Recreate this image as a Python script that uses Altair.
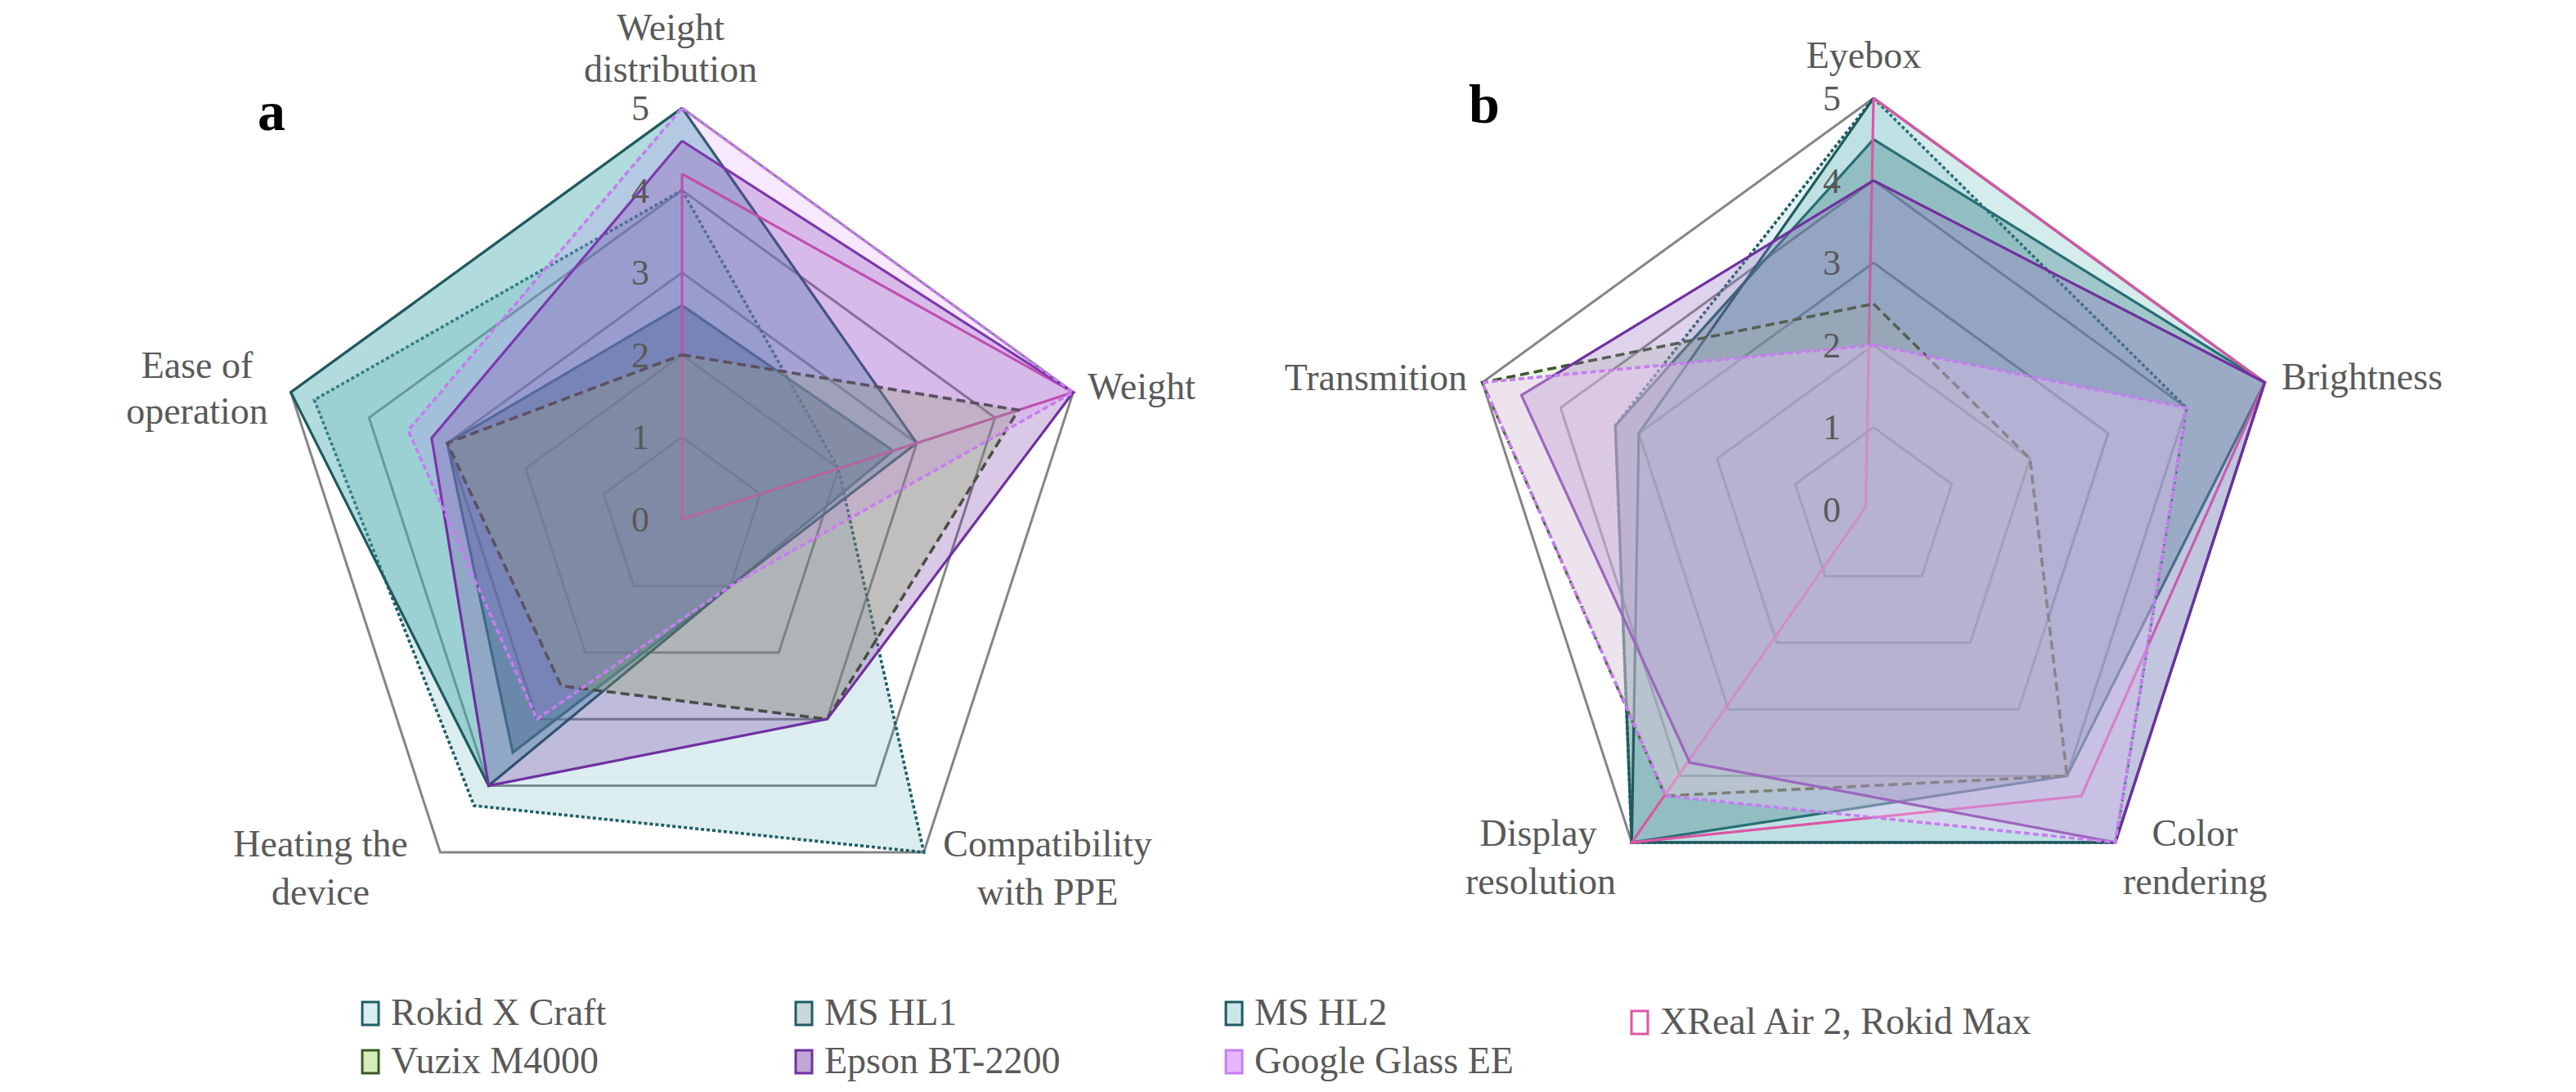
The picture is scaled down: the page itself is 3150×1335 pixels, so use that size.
import altair as alt
import pandas as pd

# ---------------- data ----------------
series = ["Rokid X Craft", "MS HL1", "MS HL2", "XReal Air 2, Rokid Max",
          "Vuzix M4000", "Epson BT-2200", "Google Glass EE"]

axes_a = ["Weight distribution", "Weight", "Compatibility with PPE",
          "Heating the device", "Ease of operation"]
axes_b = ["Eyebox", "Brightness", "Color rendering", "Display resolution", "Transmition"]

tick_values = [0, 1, 2, 3, 4, 5]

# panel a: Weight distribution, Weight, Compatibility with PPE, Heating the device, Ease of operation
rokid_a = [4.0, 2.0, 5.0, 4.3, 4.7]
hl1_a = [2.6, 2.7, 1.0, 3.5, 3.0]
hl2_a = [5.0, 3.0, 1.0, 4.0, 5.0]
xreal_a = [4.2, 5.0, 0.0, 0.0, 0.0]
vuzix_a = [2.0, 4.3, 3.0, 2.5, 3.0]
epson_a = [4.6, 5.0, 3.0, 4.0, 3.2]
google_a = [5.0, 5.0, 1.0, 3.0, 3.5]

# panel b: Eyebox, Brightness, Color rendering, Display resolution, Transmition
rokid_b = [5.0, 4.0, 5.0, 5.0, 3.3]
hl1_b = [4.5, 5.0, 4.0, 5.0, 3.3]
hl2_b = [5.0, 5.0, 5.0, 5.0, 3.0]
xreal_b = [5.0, 5.0, 4.3, 5.0, 0.1]
vuzix_b = [2.5, 2.0, 4.0, 4.3, 5.0]
epson_b = [4.0, 5.0, 5.0, 3.8, 4.5]
google_b = [2.0, 4.0, 5.0, 4.3, 5.0]

values = {
    "a": dict(zip(series, [rokid_a, hl1_a, hl2_a, xreal_a, vuzix_a, epson_a, google_a])),
    "b": dict(zip(series, [rokid_b, hl1_b, hl2_b, xreal_b, vuzix_b, epson_b, google_b])),
}

# ---------------- styles ----------------
line_color = {"Rokid X Craft": "#1f5f66", "MS HL1": "#1f5c63", "MS HL2": "#1e5a60",
              "XReal Air 2, Rokid Max": "#dc56a6", "Vuzix M4000": "#3a5a28",
              "Epson BT-2200": "#7030a0", "Google Glass EE": "#c77cf2"}
fill_style = {
    "a": {"Rokid X Craft": ("#4ba3b0", 0.2), "MS HL1": ("#1f5c63", 0.48),
          "MS HL2": ("#4aacb0", 0.43), "XReal Air 2, Rokid Max": ("#ffffff", 0.0),
          "Vuzix M4000": ("#92d050", 0.3), "Epson BT-2200": ("#7030a0", 0.26),
          "Google Glass EE": ("#cc66ff", 0.15)},
    "b": {"Rokid X Craft": ("#4ba3b0", 0.15), "MS HL1": ("#1f5c63", 0.30),
          "MS HL2": ("#4aacb0", 0.23), "XReal Air 2, Rokid Max": ("#ffffff", 0.0),
          "Vuzix M4000": ("#aac896", 0.25), "Epson BT-2200": ("#966ebe", 0.30),
          "Google Glass EE": ("#f0c8fa", 0.35)},
}
legend_fill = {"Rokid X Craft": ("#4ba3b0", 0.2), "MS HL1": ("#1f5c63", 0.48),
               "MS HL2": ("#4aacb0", 0.43), "XReal Air 2, Rokid Max": ("#ffffff", 1.0),
               "Vuzix M4000": ("#92d050", 0.3), "Epson BT-2200": ("#7030a0", 0.26),
               "Google Glass EE": ("#cc66ff", 0.15)}
dash = {"Rokid X Craft": [4, 3], "MS HL1": [1, 0], "MS HL2": [1, 0],
        "XReal Air 2, Rokid Max": [1, 0], "Vuzix M4000": [11, 6],
        "Epson BT-2200": [1, 0], "Google Glass EE": [7, 4]}

FONT = "Liberation Serif"
TXT = "#595959"
W, H = 3134, 1316
UNIT = 100.6
CX = {"a": 834, "b": 2291}
CY = {"a": 635, "b": 623}

xs = alt.Scale(domain=[8, 8 + W], range=[0, W], nice=False, zero=False)
ys = alt.Scale(domain=[8, 8 + H], range=[0, H], nice=False, zero=False)

# ---------------- tables ----------------
rows = []
for panel in ("a", "b"):
    for s in series:
        v = values[panel][s]
        for i in range(6):
            rows.append({"panel": panel, "series": s, "idx": i, "value": v[i % 5]})
poly = pd.DataFrame(rows)

grid_rows = []
for panel in ("a", "b"):
    for k in tick_values[1:]:
        for i in range(6):
            grid_rows.append({"panel": panel, "ring": k, "idx": i, "value": k})
grid = pd.DataFrame(grid_rows)

tick_df = pd.DataFrame([{"panel": p, "value": k, "label": str(k)}
                        for p in ("a", "b") for k in tick_values])

cx_expr = f"datum.panel == 'a' ? {CX['a']} : {CX['b']}"
cy_expr = f"datum.panel == 'a' ? {CY['a']} : {CY['b']}"


def polar(ch):
    return (ch.transform_calculate(ang="PI/2 - datum.idx*2*PI/5")
              .transform_calculate(cx=cx_expr, cy=cy_expr)
              .transform_calculate(px=f"datum.cx + datum.value*{UNIT}*cos(datum.ang)",
                                   py=f"datum.cy - datum.value*{UNIT}*sin(datum.ang)"))


X = alt.X("px:Q", scale=xs, axis=None)
Y = alt.Y("py:Q", scale=ys, axis=None)

layers = []

# grid rings (behind the series)
layers.append(
    polar(alt.Chart(grid)).mark_line(stroke="#858585", strokeWidth=3, strokeJoin="miter")
    .encode(x=X, y=Y, order=alt.Order("idx:Q"), detail=["panel:N", "ring:Q"])
)

# series polygons: each one filled then outlined, in series order
for panel in ("a", "b"):
    for s in series:
        fc, fa = fill_style[panel][s]
        kw = dict(stroke=line_color[s], strokeWidth=3.2, strokeJoin="miter", strokeMiterLimit=6)
        if dash[s] != [1, 0]:
            kw["strokeDash"] = dash[s]
            kw["strokeWidth"] = 3.6
        if fa > 0:
            kw["fill"] = fc
            kw["fillOpacity"] = fa
        layers.append(
            polar(alt.Chart(poly).transform_filter(
                (alt.datum.series == s) & (alt.datum.panel == panel)))
            .mark_line(**kw)
            .encode(x=X, y=Y, order=alt.Order("idx:Q"))
        )

# tick labels
layers.append(
    alt.Chart(tick_df)
    .transform_calculate(cx=cx_expr, cy=cy_expr)
    .transform_calculate(tx="datum.cx - 40", ty=f"datum.cy - datum.value*{UNIT} + 2")
    .mark_text(font=FONT, fontSize=44, color=TXT, align="right", baseline="middle")
    .encode(x=alt.X("tx:Q", scale=xs, axis=None), y=alt.Y("ty:Q", scale=ys, axis=None), text="label:N")
)

# axis category labels (layout positions)
label_layout = [
    ("Weight", 820, 49, "center"), ("distribution", 820, 100, "center"),
    ("Weight", 1330, 488, "left"),
    ("Ease of", 241, 462, "center"), ("operation", 241, 518, "center"),
    ("Heating the", 392, 1047, "center"), ("device", 392, 1106, "center"),
    ("Compatibility", 1281, 1047, "center"), ("with PPE", 1281, 1106, "center"),
    ("Eyebox", 2279, 83, "center"),
    ("Brightness", 2790, 476, "left"),
    ("Transmition", 1794, 477, "right"),
    ("Display", 1881, 1034, "center"), ("resolution", 1884, 1093, "center"),
    ("Color", 2684, 1034, "center"), ("rendering", 2684, 1093, "center"),
]
lab_df = pd.DataFrame(label_layout, columns=["text", "x", "y", "align"])
for al in ("left", "center", "right"):
    layers.append(
        alt.Chart(lab_df[lab_df["align"] == al])
        .mark_text(font=FONT, fontSize=46, color=TXT, align=al, baseline="alphabetic")
        .encode(x=alt.X("x:Q", scale=xs, axis=None), y=alt.Y("y:Q", scale=ys, axis=None), text="text:N")
    )

# panel letters
letters = pd.DataFrame({"text": ["a", "b"], "x": [332, 1815], "y": [159, 150]})
layers.append(
    alt.Chart(letters).mark_text(font=FONT, fontSize=68, fontWeight="bold", color="#000000",
                                 align="center", baseline="alphabetic")
    .encode(x=alt.X("x:Q", scale=xs, axis=None), y=alt.Y("y:Q", scale=ys, axis=None), text="text:N")
)

# legend (manual)
leg_pos = {"Rokid X Craft": (453, 1239), "MS HL1": (983, 1239), "MS HL2": (1509, 1239),
           "XReal Air 2, Rokid Max": (2005, 1250), "Vuzix M4000": (453, 1298),
           "Epson BT-2200": (983, 1298), "Google Glass EE": (1509, 1298)}
leg_df = pd.DataFrame([{"series": s, "sx": leg_pos[s][0], "sy": leg_pos[s][1]} for s in series])
leg_dash = {s: ([3, 2] if s in ("Rokid X Craft", "Google Glass EE") else ([6, 3] if s == "Vuzix M4000" else [1, 0]))
            for s in series}
layers.append(
    alt.Chart(leg_df)
    .transform_calculate(x1="datum.sx - 10", x2="datum.sx + 10", y1="datum.sy - 14", y2="datum.sy + 14")
    .mark_rect(strokeWidth=3)
    .encode(
        x=alt.X("x1:Q", scale=xs, axis=None), x2="x2:Q",
        y=alt.Y("y1:Q", scale=ys, axis=None), y2="y2:Q",
        fill=alt.Fill("series:N", scale=alt.Scale(domain=series, range=[legend_fill[s][0] for s in series]), legend=None),
        fillOpacity=alt.FillOpacity("series:N", scale=alt.Scale(domain=series, range=[legend_fill[s][1] for s in series]), legend=None),
        stroke=alt.Stroke("series:N", scale=alt.Scale(domain=series, range=[line_color[s] for s in series]), legend=None),
        strokeDash=alt.StrokeDash("series:N", scale=alt.Scale(domain=series, range=[leg_dash[s] for s in series]), legend=None),
    )
)
layers.append(
    alt.Chart(leg_df)
    .transform_calculate(tx="datum.sx + 25")
    .mark_text(font=FONT, fontSize=46, color=TXT, align="left", baseline="middle")
    .encode(x=alt.X("tx:Q", scale=xs, axis=None), y=alt.Y("sy:Q", scale=ys, axis=None), text="series:N")
)

chart = (alt.layer(*layers)
         .properties(width=W, height=H, padding=0, autosize=alt.AutoSizeParams(type="none"))
         .configure_view(stroke=None))

chart.save("out.html", embed_options={"renderer": "svg", "actions": False})
